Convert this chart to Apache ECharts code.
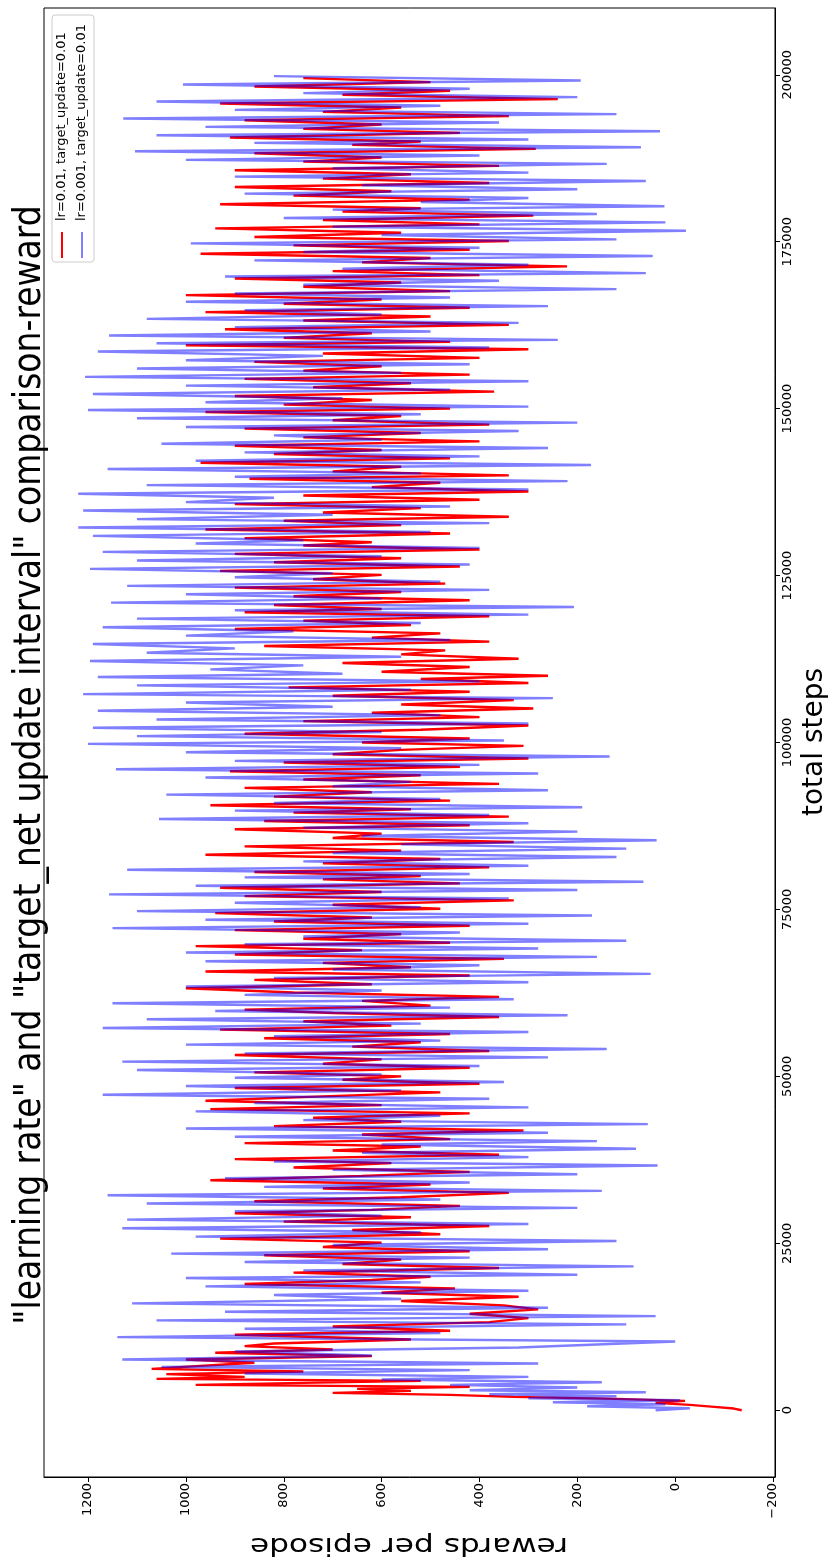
<!DOCTYPE html>
<html>
<head>
<meta charset="utf-8">
<script src="https://cdn.jsdelivr.net/npm/echarts@6/dist/echarts.min.js"></script>
<style>
html,body{margin:0;padding:0;background:#fff;}
#chart{width:836px;height:1564px;}
</style>
</head>
<body>
<div id="chart"></div>
<script>
// ---- data ----
const titleText = '"learning rate" and "target_net update interval" comparison-reward';
const xLabelText = 'total steps';
const yLabelText = 'rewards per episode';
const seriesNames = ['lr=0.01, target_update=0.01', 'lr=0.001, target_update=0.01'];
const rewardTicks = [-200, 0, 200, 400, 600, 800, 1000, 1200];
const stepTicks = [0, 25000, 50000, 75000, 100000, 125000, 150000, 175000, 200000];

const redSteps = [
0,250,500,800,1100,1400,1700,2000,2300,2600,2900,3200,3500,3800,4100,4400,4700,5000,5400,5800,6200,6600,7100,7600,8100,8600,9100,9600,
10000,10600,11300,11900,12550,13200,13800,14450,15100,15700,16350,17000,17600,18250,18900,19500,
20000,20600,21300,21900,22550,23200,23800,24450,25100,25700,26350,27000,27600,28250,28900,29500,
30000,30600,31300,31900,32550,33200,33800,34450,35100,35700,36350,37000,37600,38250,38900,39500,
40000,40600,41300,41900,42550,43200,43800,44450,45100,45700,46350,47000,47600,48250,48900,49500,
50000,50600,51300,51900,52550,53200,53800,54450,55100,55700,56350,57000,57600,58250,58900,59500,
60000,60600,61300,61900,62550,63200,63800,64450,65100,65700,66350,67000,67600,68250,68900,69500,
70000,70600,71300,71900,72550,73200,73800,74450,75100,75700,76350,77000,77600,78250,78900,79500,
80000,80600,81300,81900,82550,83200,83800,84450,85100,85700,86350,87000,87600,88250,88900,89500,
90000,90600,91300,91900,92550,93200,93800,94450,95100,95700,96350,97000,97600,98250,98900,99500,
100000,100600,101300,101900,102550,103200,103800,104450,105100,105700,106350,107000,107600,108250,108900,109500,
110000,110600,111300,111900,112550,113200,113800,114450,115100,115700,116350,117000,117600,118250,118900,119500,
120000,120600,121300,121900,122550,123200,123800,124450,125100,125700,126350,127000,127600,128250,128900,129500,
130000,130600,131300,131900,132550,133200,133800,134450,135100,135700,136350,137000,137600,138250,138900,139500,
140000,140600,141300,141900,142550,143200,143800,144450,145100,145700,146350,147000,147600,148250,148900,149500,
150000,150600,151300,151900,152550,153200,153800,154450,155100,155700,156350,157000,157600,158250,158900,159500,
160000,160600,161300,161900,162550,163200,163800,164450,165100,165700,166350,167000,167600,168250,168900,169500,
170000,170600,171300,171900,172550,173200,173800,174450,175100,175700,176350,177000,177600,178250,178900,179500,
180000,180600,181300,181900,182550,183200,183800,184450,185100,185700,186350,187000,187600,188250,188900,189500,
190000,190600,191300,191900,192550,193200,193800,194450,195100,195700,196350,197000,197600,198250,198900,199500];
const redRewards = [
-136,-120,-80,-30,40,-20,120,330,460,700,540,650,420,980,760,520,1060,880,1040,760,1070,980,860,1000,620,940,700,880,
820,540,900,460,700,380,300,420,280,350,560,320,600,450,880,620,
500,780,360,680,560,840,420,720,600,930,480,660,380,800,540,900,
620,440,860,560,340,720,500,950,640,420,780,580,900,360,700,520,
880,460,640,310,820,560,740,420,950,600,960,720,480,900,400,680,
560,860,420,720,600,900,380,660,520,840,460,930,580,760,360,700,
880,500,640,360,780,1000,620,860,420,960,540,720,350,900,640,980,
460,760,560,900,420,820,620,940,480,700,330,880,600,930,440,720,
520,860,380,720,480,960,560,880,330,700,600,900,420,840,340,780,
540,950,460,820,620,880,360,760,520,910,440,800,300,700,560,310,
640,420,880,520,300,760,400,620,290,560,330,700,420,790,300,520,
260,600,420,680,320,560,470,840,380,620,480,900,540,760,380,880,
600,820,420,780,560,900,470,740,600,930,440,820,560,900,400,760,
620,880,460,960,560,800,340,720,520,900,400,760,300,620,480,870,
340,700,560,970,460,820,600,900,400,760,520,880,380,700,560,960,
460,800,620,900,370,740,540,880,420,760,600,860,400,720,300,1000,
460,800,620,920,340,760,500,960,420,800,600,1000,460,760,560,900,
400,700,221,640,500,970,420,780,340,860,560,940,400,720,290,680,
520,930,420,780,580,900,380,720,540,900,360,760,600,860,285,660,
520,910,440,760,600,880,340,720,560,930,240,680,460,860,500,760];

const blueSteps = [
0,300,600,900,1200,1500,1800,2100,2400,2700,3000,3400,3800,4200,4600,5000,5500,6000,6500,7000,7600,8200,8800,9400,
10300,10950,11550,12200,12850,13450,14100,14750,15350,16000,16650,17250,17900,18550,19150,19800,
20300,20950,21550,22200,22850,23450,24100,24750,25350,26000,26650,27250,27900,28550,29150,29800,
30300,30950,31550,32200,32850,33450,34100,34750,35350,36000,36650,37250,37900,38550,39150,39800,
40300,40950,41550,42200,42850,43450,44100,44750,45350,46000,46650,47250,47900,48550,49150,49800,
50300,50950,51550,52200,52850,53450,54100,54750,55350,56000,56650,57250,57900,58550,59150,59800,
60300,60950,61550,62200,62850,63450,64100,64750,65350,66000,66650,67250,67900,68550,69150,69800,
70300,70950,71550,72200,72850,73450,74100,74750,75350,76000,76650,77250,77900,78550,79150,79800,
80300,80950,81550,82200,82850,83450,84100,84750,85350,86000,86650,87250,87900,88550,89150,89800,
90300,90950,91550,92200,92850,93450,94100,94750,95350,96000,96650,97250,97900,98550,99150,99800,
100300,100950,101550,102200,102850,103450,104100,104750,105350,106000,106650,107250,107900,108550,109150,109800,
110300,110950,111550,112200,112850,113450,114100,114750,115350,116000,116650,117250,117900,118550,119150,119800,
120300,120950,121550,122200,122850,123450,124100,124750,125350,126000,126650,127250,127900,128550,129150,129800,
130300,130950,131550,132200,132850,133450,134100,134750,135350,136000,136650,137250,137900,138550,139150,139800,
140300,140950,141550,142200,142850,143450,144100,144750,145350,146000,146650,147250,147900,148550,149150,149800,
150300,150950,151550,152200,152850,153450,154100,154750,155350,156000,156650,157250,157900,158550,159150,159800,
160300,160950,161550,162200,162850,163450,164100,164750,165350,166000,166650,167250,167900,168550,169150,169800,
170300,170950,171550,172200,172850,173450,174100,174750,175350,176000,176650,177250,177900,178550,179150,179800,
180300,180950,181550,182200,182850,183450,184100,184750,185350,186000,186650,187250,187900,188550,189150,189800,
190300,190950,191550,192200,192850,193450,194100,194750,195350,196000,196650,197250,197900,198550,199150,199800];
const blueRewards = [
40,-30,180,20,250,-10,300,120,380,60,420,200,460,150,600,300,880,420,1050,280,1130,620,900,320,
0,1140,480,880,100,1060,40,920,260,1110,560,820,300,960,520,1000,
200,760,85,880,420,1030,260,700,120,980,520,1130,300,1120,600,900,
200,1080,480,1160,150,840,420,920,200,700,36,820,300,640,80,600,
160,900,260,1000,56,760,480,980,300,860,380,1170,560,1000,350,900,
600,1100,400,1130,260,880,140,1000,480,820,300,1170,520,1080,220,940,
460,1150,330,880,600,1000,300,820,50,700,400,960,160,1000,280,880,
100,760,440,1150,300,960,170,1100,520,900,340,1157,200,980,65,880,
420,1120,300,760,120,700,100,560,38,640,200,760,300,1055,380,900,
190,820,480,1040,260,700,540,960,280,1143,400,900,134,1000,560,1200,
350,1100,600,1190,300,1060,480,1180,700,1000,250,1210,540,1100,400,1180,
680,950,760,1196,560,1080,900,1190,460,1000,780,1170,520,1100,300,900,
207,1153,600,1000,380,1120,480,900,700,1196,420,1100,600,1170,400,980,
760,1190,500,1220,380,1100,700,1210,460,1000,820,1220,300,1080,220,900,
520,1160,172,980,400,880,260,1050,600,820,320,1000,200,1100,520,1200,
300,960,680,1190,460,1000,300,1206,560,1100,420,1000,720,1180,380,1060,
240,1157,500,900,320,1080,600,880,260,1000,460,900,120,760,360,920,
60,680,300,860,46,760,400,990,120,600,-22,700,20,800,160,700,
22,520,300,880,200,640,60,900,300,700,140,1000,400,1104,70,860,
300,1060,31,960,360,1128,120,900,480,1060,200,760,420,1006,193,820];

// ---- chart ----
const FONT = '"DejaVu Sans", "Liberation Sans", sans-serif';
const chart = echarts.init(document.getElementById('chart'), null, {renderer: 'canvas'});
const pair = (xs, ys) => ys.map((v, i) => [v, xs[i]]);
const minusFmt = v => (v < 0 ? '\u2212' + Math.abs(v) : String(v));

const option = {
  animation: false,
  backgroundColor: '#ffffff',
  grid: {left: 44, right: 61, top: 8, bottom: 87, show: true, borderColor: '#000', borderWidth: 1, backgroundColor: 'transparent'},
  xAxis: {
    type: 'value', inverse: true, min: -204, max: 1290, position: 'bottom',
    splitLine: {show: false},
    axisLine: {show: true, onZero: false, lineStyle: {color: '#000', width: 1}},
    axisTick: {show: true, length: 5, inside: false, customValues: rewardTicks, lineStyle: {color: '#000'}},
    axisLabel: {show: true, rotate: 90, customValues: rewardTicks, margin: 6, fontSize: 13, color: '#000', fontFamily: FONT, formatter: minusFmt}
  },
  yAxis: {
    type: 'value', min: -10000, max: 210000, position: 'right',
    splitLine: {show: false},
    axisLine: {show: true, onZero: false, lineStyle: {color: '#000', width: 1}},
    axisTick: {show: true, length: 5, inside: false, customValues: stepTicks, lineStyle: {color: '#000'}},
    axisLabel: {show: true, rotate: 90, customValues: stepTicks, margin: 6, fontSize: 13, color: '#000', fontFamily: FONT, formatter: v => String(v)}
  },
  series: [
    {name: seriesNames[0], type: 'line', data: pair(redSteps, redRewards), showSymbol: false, symbol: 'none',
     lineStyle: {color: '#ff0000', width: 2.4}, itemStyle: {color: '#ff0000'}, silent: true, z: 2},
    {name: seriesNames[1], type: 'line', data: pair(blueSteps, blueRewards), showSymbol: false, symbol: 'none',
     lineStyle: {color: 'rgba(0,0,255,0.5)', width: 2.4}, itemStyle: {color: 'rgba(0,0,255,0.5)'}, silent: true, z: 3}
  ],
  graphic: [
    {type: 'text', x: 30, y: 765, rotation: Math.PI / 2, scaleY: 1.15, z: 10,
     style: {text: titleText, font: '33px ' + FONT, fill: '#000', textAlign: 'center', textVerticalAlign: 'middle', align: 'center', verticalAlign: 'middle'}},
    {type: 'text', x: 815, y: 742, rotation: Math.PI / 2, z: 10,
     style: {text: xLabelText, font: '28px ' + FONT, fill: '#000', textAlign: 'center', textVerticalAlign: 'middle', align: 'center', verticalAlign: 'middle'}},
    {type: 'text', x: 409, y: 1544, rotation: Math.PI, scaleX: 1.3, z: 10,
     style: {text: yLabelText, font: '24px ' + FONT, fill: '#000', textAlign: 'center', textVerticalAlign: 'middle', align: 'center', verticalAlign: 'middle'}},
    // legend box
    {type: 'rect', shape: {x: 52, y: 15, width: 42, height: 247, r: 3}, z: 20,
     style: {fill: 'rgba(255,255,255,0.8)', stroke: '#cccccc', lineWidth: 1}},
    {type: 'line', shape: {x1: 62, y1: 258, x2: 62, y2: 232}, z: 21, style: {stroke: '#ff0000', lineWidth: 2}},
    {type: 'line', shape: {x1: 82, y1: 258, x2: 82, y2: 232}, z: 21, style: {stroke: 'rgba(0,0,255,0.5)', lineWidth: 2}},
    {type: 'text', x: 62, y: 221, rotation: Math.PI / 2, z: 21,
     style: {text: seriesNames[0], font: '13px ' + FONT, fill: '#000', textAlign: 'left', textVerticalAlign: 'middle', align: 'left', verticalAlign: 'middle'}},
    {type: 'text', x: 82, y: 221, rotation: Math.PI / 2, z: 21,
     style: {text: seriesNames[1], font: '13px ' + FONT, fill: '#000', textAlign: 'left', textVerticalAlign: 'middle', align: 'left', verticalAlign: 'middle'}}
  ]
};
chart.setOption(option);
</script>
</body>
</html>
